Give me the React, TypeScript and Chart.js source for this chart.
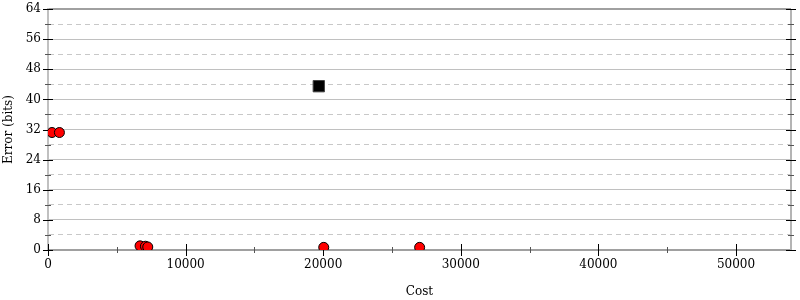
import React, { useEffect, useRef } from "react";
import { Chart, registerables } from "chart.js";

Chart.register(...registerables);

const redCost = [290, 830, 6690, 7080, 7250, 20040, 27010];
const redError = [31.2, 31.2, 1.1, 1.0, 0.8, 0.7, 0.7];
const blackCost = [19680];
const blackError = [43.5];

const xMax = 54000;
const yMax = 64;
const xTickValues = [0, 5000, 10000, 15000, 20000, 25000, 30000, 35000, 40000, 45000, 50000];
const xLabelValues = [0, 10000, 20000, 30000, 40000, 50000];
const yTickValues = [0, 4, 8, 12, 16, 20, 24, 28, 32, 36, 40, 44, 48, 52, 56, 60, 64];
const yLabelValues = [0, 8, 16, 24, 32, 40, 48, 56, 64];

const FONT = { family: "'DejaVu Serif', serif", size: 12 };

const isYMajor = (v: number) => yLabelValues.includes(v);
const isXMajor = (v: number) => xLabelValues.includes(v);

const tickPlugin = {
  id: "mirrorTicks",
  beforeDatasetsDraw(chart: any) {
    const { ctx, chartArea, scales } = chart;
    const { left, right, top, bottom } = chartArea;
    const x = scales.x;
    const y = scales.y;
    ctx.save();
    ctx.strokeStyle = "#b4b4b4";
    ctx.lineWidth = 2;
    ctx.beginPath();
    ctx.moveTo(right, top);
    ctx.lineTo(right, bottom);
    ctx.stroke();
    ctx.lineWidth = 1;
    for (const t of y.ticks) {
      const v = t.value;
      const py = Math.round(y.getPixelForValue(v)) + 0.5;
      const major = isYMajor(v);
      const len = major ? 5 : 3;
      ctx.strokeStyle = major ? "#000" : "#555";
      ctx.beginPath();
      ctx.moveTo(left - len, py);
      ctx.lineTo(left + len, py);
      ctx.moveTo(right - len, py);
      ctx.lineTo(right + len, py);
      ctx.stroke();
    }
    for (const t of x.ticks) {
      const v = t.value;
      const px = Math.round(x.getPixelForValue(v)) + 0.5;
      const major = isXMajor(v);
      const len = major ? 6 : 3;
      ctx.strokeStyle = major ? "#000" : "#555";
      ctx.beginPath();
      ctx.moveTo(px, bottom - len);
      ctx.lineTo(px, bottom + len);
      ctx.stroke();
    }
    ctx.restore();
  },
};

export default function App() {
  const ref = useRef<HTMLCanvasElement | null>(null);

  useEffect(() => {
    if (!ref.current) return;
    const chart = new Chart(ref.current, {
      type: "scatter",
      data: {
        datasets: [
          {
            label: "red",
            data: redCost.map((c, i) => ({ x: c, y: redError[i] })),
            pointStyle: "circle",
            pointRadius: 5,
            pointBackgroundColor: "#ff0000",
            pointBorderColor: "#000000",
            pointBorderWidth: 1,
          },
          {
            label: "black",
            data: blackCost.map((c, i) => ({ x: c, y: blackError[i] })),
            pointStyle: "rect",
            pointRadius: 8,
            pointBackgroundColor: "#000000",
            pointBorderColor: "#444444",
            pointBorderWidth: 1,
          },
        ],
      },
      options: {
        animation: false,
        responsive: false,
        events: [],
        layout: { padding: { top: 0, right: 6, left: 0, bottom: 0 } },
        plugins: {
          legend: { display: false },
          tooltip: { enabled: false },
        },
        scales: {
          x: {
            type: "linear",
            min: 0,
            max: xMax,
            afterBuildTicks: (s: any) => {
              s.ticks = xTickValues.map((v) => ({ value: v }));
            },
            afterFit: (s: any) => {
              s.height = 50;
              s.paddingLeft = 0;
              s.paddingRight = 0;
            },
            border: { display: true, color: "#a0a0a0", width: 2 },
            grid: { drawOnChartArea: false, drawTicks: false },
            ticks: {
              autoSkip: false,
              maxRotation: 0,
              padding: 8,
              color: "#000",
              font: FONT,
              callback: (v: any) => (isXMajor(Number(v)) ? String(v) : ""),
            },
            title: {
              display: true,
              text: "Cost",
              color: "#000",
              font: FONT,
              padding: { top: 0, bottom: 1 },
            },
          },
          y: {
            type: "linear",
            min: 0,
            max: yMax,
            afterBuildTicks: (s: any) => {
              s.ticks = yTickValues.map((v) => ({ value: v }));
            },
            afterFit: (s: any) => {
              s.width = 48;
              s.paddingTop = 7;
              s.paddingBottom = 0;
            },
            border: {
              display: true,
              color: "#c0c0c0",
              width: 2,
              dash: (ctx: any) =>
                ctx.tick && !isYMajor(ctx.tick.value) ? [5, 4] : [],
            },
            grid: {
              drawTicks: false,
              color: (ctx: any) =>
                ctx.tick && ctx.tick.value === 64
                  ? "#a0a0a0"
                  : ctx.tick && isYMajor(ctx.tick.value)
                  ? "#c0c0c0"
                  : "#c8c8c8",
              lineWidth: (ctx: any) =>
                ctx.tick && ctx.tick.value === 64 ? 2 : 1,
            },
            ticks: {
              autoSkip: false,
              padding: 7,
              color: "#000",
              font: FONT,
              callback: (v: any) => (isYMajor(Number(v)) ? String(v) : ""),
            },
            title: {
              display: true,
              text: "Error (bits)",
              color: "#000",
              font: FONT,
              padding: { top: 2, bottom: 0 },
            },
          },
        },
      },
      plugins: [tickPlugin],
    });
    return () => chart.destroy();
  }, []);

  return (
    <div style={{ position: "absolute", left: 0, top: 0, width: 800, height: 300, background: "#fff" }}>
      <canvas ref={ref} width={800} height={300} />
    </div>
  );
}
